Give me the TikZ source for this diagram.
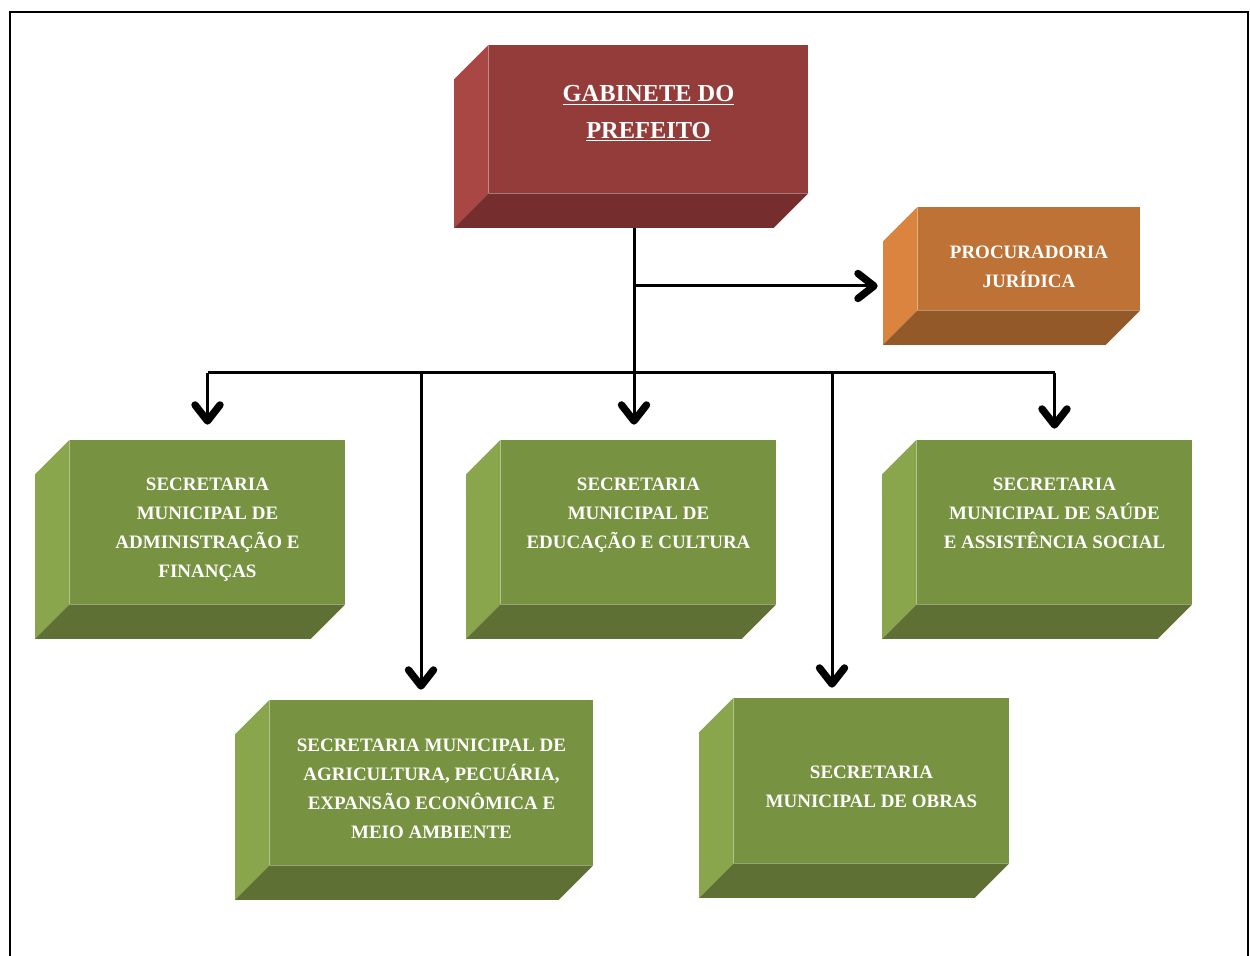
\documentclass[tikz,border=0pt]{standalone}
\usepackage{fontspec}
\setmainfont{Liberation Serif}
\usetikzlibrary{arrows.meta,positioning}

\definecolor{gabF}{HTML}{943C3A}
\definecolor{gabL}{HTML}{A94744}
\definecolor{gabB}{HTML}{752E2D}
\definecolor{procF}{HTML}{BE7236}
\definecolor{procL}{HTML}{DA843F}
\definecolor{procB}{HTML}{945928}
\definecolor{grnF}{HTML}{779241}
\definecolor{grnL}{HTML}{8AA64D}
\definecolor{grnB}{HTML}{5E7034}

\tikzset{
    face/.style={fill=#1, draw=none, inner sep=0pt, minimum width=5.5cm, minimum height=3.28cm},
    txt/.style={text=white, font=\bfseries\fontsize{10.8}{16.5}\selectfont, align=center, inner sep=0pt},
    conn/.style={line width=1.7pt},
    arr/.style={conn, -{Straight Barb[length=3.2mm,width=5mm,line width=4.2pt,round]}, shorten >=0.3cm},
}

\begin{document}
\begin{tikzpicture}
    \useasboundingbox (0,0) rectangle (25,19.12);
    \draw[line width=1.1pt] (0.2,0) |- (24.96,18.88) -- (24.96,0);

    % faces da frente
    \node[face=gabF, minimum width=6.38cm, minimum height=2.96cm] (gab) at (12.97,16.74) {};
    \node[face=procF, minimum width=4.44cm, minimum height=2.06cm] (proc) at (20.58,13.95) {};
    \node[face=grnF] (adm) at (4.15,8.68) {};
    \node[face=grnF] (educ) at (12.77,8.68) {};
    \node[face=grnF] (saude) at (21.09,8.68) {};
    \node[face=grnF, minimum width=6.46cm, minimum height=3.3cm] (agric) at (8.63,3.47) {};
    \node[face=grnF, minimum height=3.3cm] (obras) at (17.43,3.51) {};

    % lado e chao de cada bloco
    \foreach \n/\lado/\chao in {gab/gabL/gabB, proc/procL/procB, adm/grnL/grnB, educ/grnL/grnB,
                                saude/grnL/grnB, agric/grnL/grnB, obras/grnL/grnB}{
        \fill[\lado] (\n.north west) -- ++(-0.69,-0.69)
            -- ([shift={(-0.69,-0.69)}]\n.south west) -- (\n.south west) -- cycle;
        \fill[\chao] (\n.south west) -- ([shift={(-0.69,-0.69)}]\n.south west)
            -- ([shift={(-0.69,-0.69)}]\n.south east) -- (\n.south east) -- cycle;
    }

    \node[txt, font=\bfseries\fontsize{13.9}{21}\selectfont, below=0.8cm of gab.north] (gabT)
        {\underline{GABINETE DO}\\\underline{PREFEITO}};
    \node[txt, below=0.77cm of proc.north] (procT) {PROCURADORIA\\JURÍDICA};
    \node[txt, below=0.75cm of adm.north] (admT) {SECRETARIA\\MUNICIPAL DE\\ADMINISTRAÇÃO E\\FINANÇAS};
    \node[txt, below=0.75cm of educ.north] (educT) {SECRETARIA\\MUNICIPAL DE\\EDUCAÇÃO E CULTURA};
    \node[txt, below=0.75cm of saude.north] (saudeT) {SECRETARIA\\MUNICIPAL DE SAÚDE\\E ASSISTÊNCIA SOCIAL};
    \node[txt, below=0.77cm of agric.north] (agricT)
        {SECRETARIA MUNICIPAL DE\\AGRICULTURA, PECUÁRIA,\\EXPANSÃO ECONÔMICA E\\MEIO AMBIENTE};
    \node[txt, below=1.35cm of obras.north] (obrasT) {SECRETARIA\\MUNICIPAL DE OBRAS};

    % ligacoes
    \coordinate (topo) at (12.68,14.56);
    \coordinate (tap) at (12.68,13.4);
    \coordinate (hub) at (12.68,11.66);

    \draw[arr] (topo) -- (topo |- educ.north);
    \draw[arr, shorten >=0.8cm] (tap) -- (tap -| proc.west);
    \draw[conn] (adm |- hub) -- (saude |- hub);
    \draw[arr] (adm |- hub) -- (adm.north);
    \draw[arr, shorten >=0.22cm] (saude |- hub) -- (saude.north);
    \draw[arr, shorten >=0.2cm] ([xshift=-2.1mm]agric.north |- hub) -- ([xshift=-2.1mm]agric.north);
    \draw[arr, shorten >=0.2cm] ([xshift=-7.9mm]obras.north |- hub) -- ([xshift=-7.9mm]obras.north);
\end{tikzpicture}
\end{document}
